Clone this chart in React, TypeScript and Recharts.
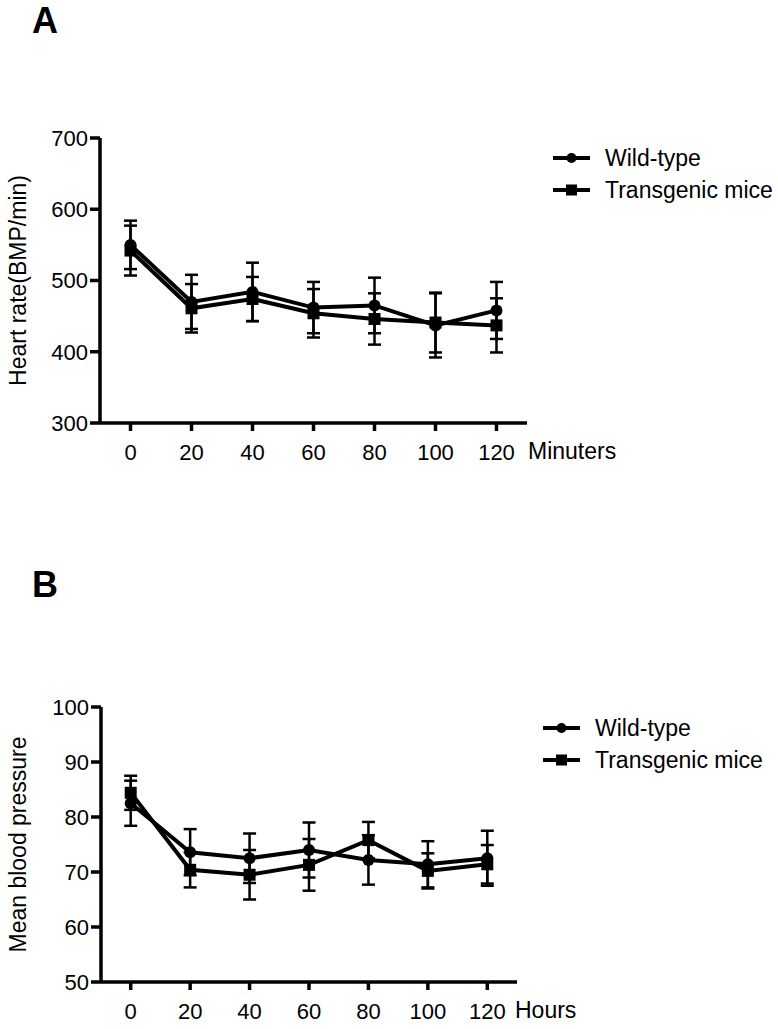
import React from "react"
import { LineChart, Line, XAxis, YAxis, ErrorBar, Legend } from "recharts"

// time points (shared by both panels)
const timePoints = [0, 20, 40, 60, 80, 100, 120]
const xTicks = [0, 20, 40, 60, 80, 100, 120]

// panel A - heart rate
const hrWild = [550, 470, 484, 462, 465, 437, 458]
const hrWildErr = [34, 38, 41, 36, 39, 45, 40]
const hrTg = [542, 461, 474, 454, 446, 441, 437]
const hrTgErr = [35, 34, 31, 34, 36, 42, 38]
const hrTicks = [300, 400, 500, 600, 700]

// panel B - mean blood pressure
const bpWild = [82.5, 73.6, 72.5, 74.0, 72.2, 71.4, 72.5]
const bpWildErr = [4.1, 4.2, 4.5, 5.0, 4.5, 4.2, 5.0]
const bpTg = [84.4, 70.4, 69.5, 71.3, 75.8, 70.2, 71.4]
const bpTgErr = [3.1, 3.2, 4.5, 4.7, 3.3, 3.2, 3.5]
const bpTicks = [50, 60, 70, 80, 90, 100]

const seriesNames = ["Wild-type", "Transgenic mice"]

const FONT = "'Liberation Sans', Arial, sans-serif"

const toRows = (a: number[], ae: number[], b: number[], be: number[]) =>
  timePoints.map((t, i) => ({ t, wild: a[i], wildErr: ae[i], tg: b[i], tgErr: be[i] }))

const hrRows = toRows(hrWild, hrWildErr, hrTg, hrTgErr)
const bpRows = toRows(bpWild, bpWildErr, bpTg, bpTgErr)

const CircleDot = (p: any) => <circle key={p.key} cx={p.cx} cy={p.cy} r={6} fill="#000" />
const SquareDot = (p: any) => <rect key={p.key} x={p.cx - 6} y={p.cy - 6} width={12} height={12} fill="#000" />

function LegendBox({ textGap }: { textGap: number }) {
  return (
    <div style={{ fontFamily: FONT, fontSize: 23, color: "#000" }}>
      {seriesNames.map((name, i) => (
        <div key={name} style={{ display: "flex", alignItems: "center", height: 32 }}>
          <svg width={37} height={16} style={{ marginRight: textGap }}>
            <line x1={0} y1={8} x2={37} y2={8} stroke="#000" strokeWidth={4} />
            {i === 0 ? <circle cx={18.5} cy={8} r={5} fill="#000" /> : <rect x={13} y={2.5} width={11} height={11} fill="#000" />}
          </svg>
          <span>{name}</span>
        </div>
      ))}
    </div>
  )
}

const yTitle = (text: string) => (props: any) => {
  const vb = props.viewBox
  const cy = vb.y + vb.height / 2
  return (
    <text x={26} y={cy} transform={`rotate(-90, 26, ${cy})`} textAnchor="middle" fontFamily={FONT} fontSize={23} fill="#000">
      {text}
    </text>
  )
}

const xTitle = (text: string, dx: number) => (props: any) => {
  const vb = props.viewBox
  return (
    <text x={vb.x + vb.width + dx} y={vb.y + 36} textAnchor="start" fontFamily={FONT} fontSize={23} fill="#000">
      {text}
    </text>
  )
}

function Panel({
  rows, height, margin, yDomain, yTicks, yLabel, xLabel, xLabelDx, legendLeft, legendTop, textGap,
}: any) {
  const axisStyle = { stroke: "#000", strokeWidth: 3.5 }
  return (
    <LineChart width={778} height={height} data={rows} margin={margin}>
      <XAxis
        type="number"
        dataKey="t"
        domain={[-10, 130]}
        ticks={xTicks}
        axisLine={axisStyle}
        tickLine={axisStyle}
        tickSize={8}
        tickMargin={13}
        height={40}
        tick={{ fill: "#000", fontSize: 22, fontFamily: FONT }}
        label={{ content: xTitle(xLabel, xLabelDx) }}
      />
      <YAxis
        type="number"
        domain={yDomain}
        ticks={yTicks}
        axisLine={axisStyle}
        tickLine={axisStyle}
        tickSize={10}
        tickMargin={2}
        width={92}
        interval={0}
        tick={{ fill: "#000", fontSize: 22, fontFamily: FONT }}
        label={{ content: yTitle(yLabel) }}
      />
      <Legend
        layout="vertical"
        align="center"
        verticalAlign="middle"
        wrapperStyle={{ left: legendLeft, top: legendTop, width: 230 }}
        content={() => <LegendBox textGap={textGap} />}
      />
      <Line dataKey="wild" name={seriesNames[0]} stroke="#000" strokeWidth={4} dot={CircleDot} activeDot={false} isAnimationActive={false}>
        <ErrorBar dataKey="wildErr" direction="y" width={6.5} stroke="#000" strokeWidth={2.5} isAnimationActive={false} />
      </Line>
      <Line dataKey="tg" name={seriesNames[1]} stroke="#000" strokeWidth={4} dot={SquareDot} activeDot={false} isAnimationActive={false}>
        <ErrorBar dataKey="tgErr" direction="y" width={6.5} stroke="#000" strokeWidth={2.5} isAnimationActive={false} />
      </Line>
    </LineChart>
  )
}

export default function App() {
  return (
    <div style={{ position: "absolute", left: 0, top: 0, width: 778, height: 1029, background: "#fff" }}>
      <div style={{ position: "absolute", left: 32, top: 0, font: `bold 36px ${FONT}` }}>A</div>
      <div style={{ position: "absolute", left: 0, top: 0 }}>
        <Panel
          rows={hrRows}
          height={480}
          margin={{ top: 138, right: 251, bottom: 17, left: 8 }}
          yDomain={[300, 700]}
          yTicks={hrTicks}
          yLabel="Heart rate(BMP/min)"
          xLabel="Minuters"
          xLabelDx={1}
          legendLeft={553}
          legendTop={142}
          textGap={15}
        />
      </div>
      <div style={{ position: "absolute", left: 32, top: 564, font: `bold 36px ${FONT}` }}>B</div>
      <div style={{ position: "absolute", left: 0, top: 500 }}>
        <Panel
          rows={bpRows}
          height={529}
          margin={{ top: 207, right: 261, bottom: 7, left: 9 }}
          yDomain={[50, 100]}
          yTicks={bpTicks}
          yLabel="Mean blood pressure"
          xLabel="Hours"
          xLabelDx={-2}
          legendLeft={543}
          legendTop={212}
          textGap={15}
        />
      </div>
    </div>
  )
}
